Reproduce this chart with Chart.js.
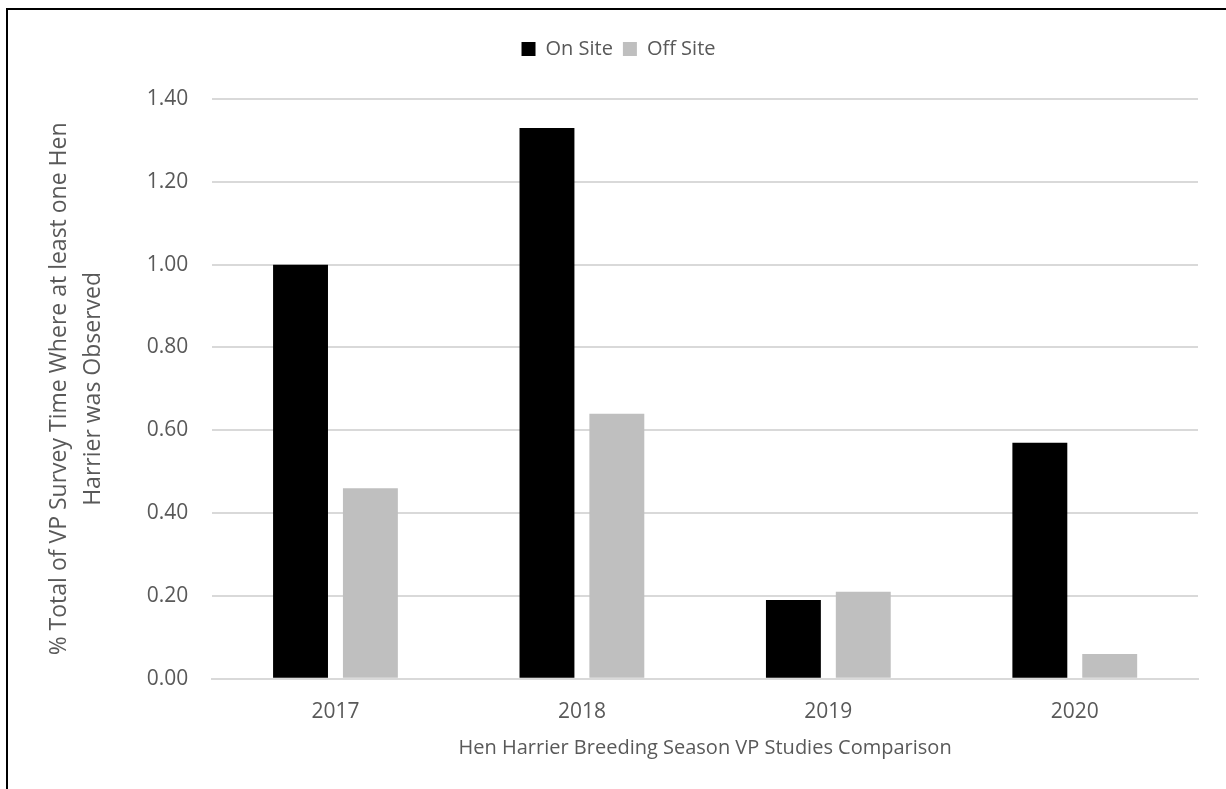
<!DOCTYPE html>
<html>
<head>
<meta charset="utf-8">
<script src="https://cdn.jsdelivr.net/npm/chart.js@4.4.1/dist/chart.umd.min.js"></script>
<style>
  html, body { margin: 0; padding: 0; background: #fff; }
  #wrap { position: relative; width: 1226px; height: 789px; overflow: hidden; }
  #frame { position: absolute; left: 6px; top: 8px; width: 1240px; height: 800px; border-left: 2px solid #000; border-top: 2px solid #000; box-sizing: border-box; }
  canvas { position: absolute; left: 0; top: 0; }
</style>
</head>
<body>
<div id="wrap">
  <div id="frame"></div>
  <canvas id="c" width="1226" height="789"></canvas>
</div>
<script>
const categories = ["2017", "2018", "2019", "2020"];
const onSite = [1.00, 1.33, 0.19, 0.57];
const offSite = [0.46, 0.64, 0.21, 0.06];
const seriesNames = ["On Site", "Off Site"];
const yTitle = ["% Total of VP Survey Time Where at least one Hen", "Harrier was Observed"];
const xTitle = "Hen Harrier Breeding Season VP Studies Comparison";

const FONT = "'Open Sans', sans-serif";
const TXT = "#595959";

const legendGap = {
  id: "legendGap",
  beforeInit(chart) {
    const orig = chart.legend.fit;
    chart.legend.fit = function () {
      orig.call(this);
      this.height += 30;
    };
  }
};

new Chart(document.getElementById("c"), {
  type: "bar",
  data: {
    labels: categories,
    datasets: [
      { label: seriesNames[0], data: onSite, backgroundColor: "#000000", barPercentage: 0.786, categoryPercentage: 0.567 },
      { label: seriesNames[1], data: offSite, backgroundColor: "#bfbfbf", barPercentage: 0.786, categoryPercentage: 0.567 }
    ]
  },
  plugins: [legendGap],
  options: {
    responsive: false,
    animation: false,
    layout: { padding: { left: 39, right: 28, top: 29, bottom: 25 } },
    plugins: {
      legend: {
        position: "top",
        labels: { color: TXT, font: { family: FONT, size: 20 }, boxWidth: 14, boxHeight: 14, padding: 10 }
      },
      tooltip: { enabled: false }
    },
    scales: {
      x: {
        grid: { display: false, drawTicks: false },
        border: { display: true, color: "#d9d9d9", width: 2 },
        ticks: { color: TXT, font: { family: FONT, size: 21 }, padding: 21 },
        title: { display: true, text: xTitle, color: TXT, font: { family: FONT, size: 20 }, padding: { top: -10, bottom: 4 } }
      },
      y: {
        min: 0, max: 1.4,
        ticks: { stepSize: 0.2, color: TXT, font: { family: FONT, size: 21 }, padding: 24, callback: v => Number(v).toFixed(2) },
        grid: { color: "#d9d9d9", lineWidth: 2, drawTicks: false },
        border: { display: false },
        title: { display: true, text: yTitle, color: TXT, font: { family: FONT, size: 23, lineHeight: 1.45 }, padding: { top: 4, bottom: 13 } }
      }
    }
  }
});
</script>
</body>
</html>
